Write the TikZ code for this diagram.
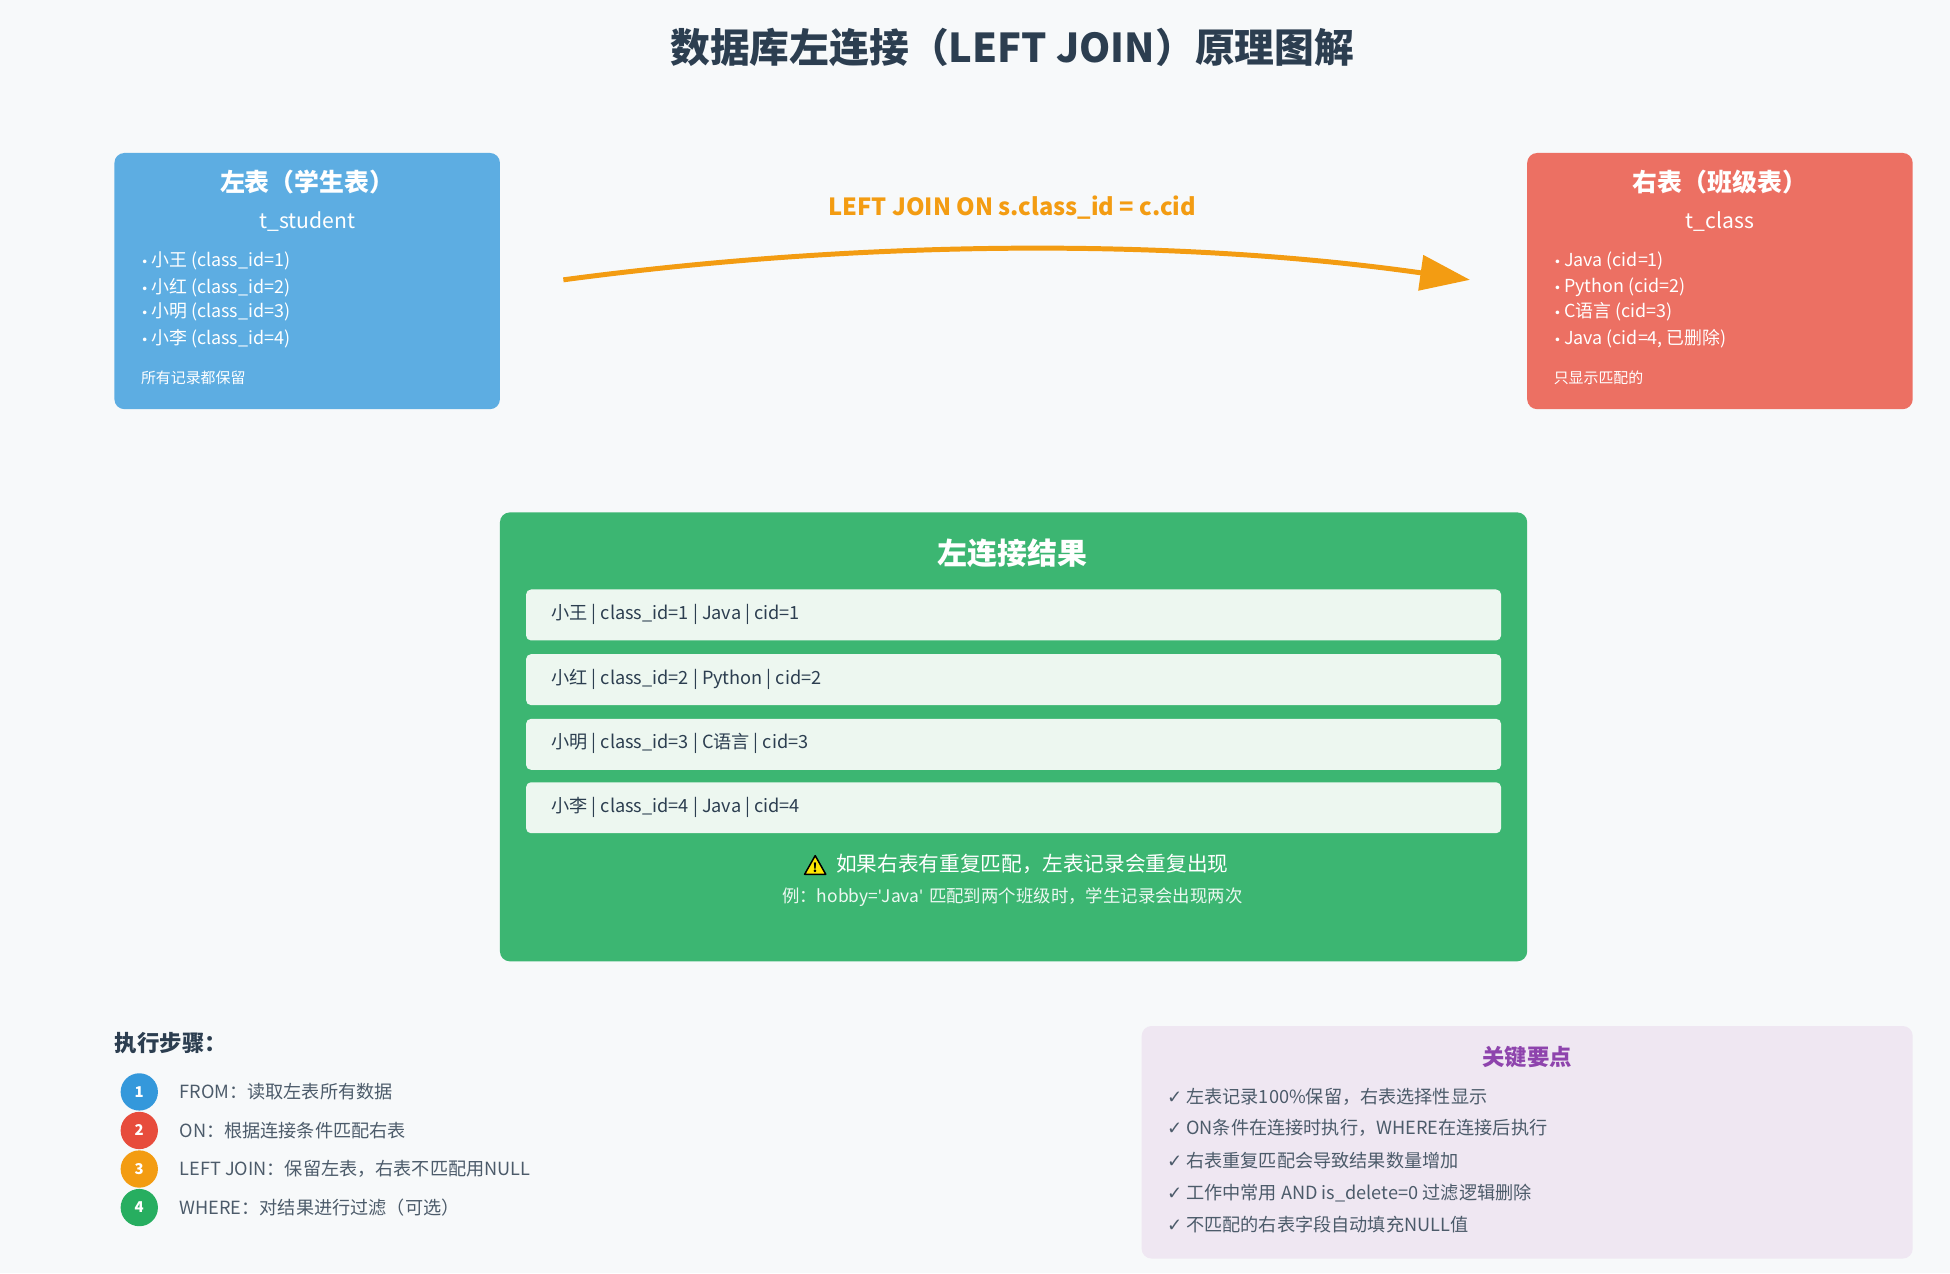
\documentclass[tikz,border=0pt]{standalone}
\usepackage{fontspec}
\setmainfont{Noto Sans CJK SC}
\newfontfamily\djfont{DejaVu Sans}
\newfontfamily\latofont{Lato}
\usetikzlibrary{arrows.meta}
\definecolor{bg}{HTML}{F7F9FA}
\definecolor{dark}{HTML}{2C3E50}
\definecolor{lblue}{HTML}{5DADE2}
\definecolor{lred}{HTML}{EC7063}
\definecolor{lgreen}{HTML}{3CB672}
\definecolor{rowc}{HTML}{EDF7F0}
\definecolor{orng}{HTML}{F39C12}
\definecolor{purp}{HTML}{8E44AD}
\definecolor{lav}{HTML}{EFE7F2}
\definecolor{cblue}{HTML}{3498DB}
\definecolor{cred}{HTML}{E74C3C}
\definecolor{cgreen}{HTML}{27AE60}
\newcommand{\fs}[1]{\fontsize{#1}{#1}\selectfont}
\newcommand{\bul}{{\djfont\fs{5}•}\,}
\newcommand{\sq}{{\latofont\symbol{39}}}
\tikzset{
 card/.style={rounded corners=4pt,draw=none},
 wt/.style={text=white,inner sep=0,anchor=west},
 row/.style={fill=rowc,rounded corners=2pt,draw=none},
 rowt/.style={text=dark,inner sep=0,anchor=west,font=\fs{7.3}},
 stept/.style={text=dark!85,inner sep=0,anchor=west,font=\fs{7.3}},
 num/.style={circle,minimum size=15pt,inner sep=0,text=white,font=\fs{6}\bfseries},
}
\begin{document}
\begin{tikzpicture}[x=0.5pt,y=-0.5pt]
\useasboundingbox[fill=bg] (0,0) rectangle (1568,1024);
\node[text=dark,font=\fs{16}\bfseries] (title) at (814,38) {数据库左连接（LEFT JOIN）原理图解};
% left
\fill[lblue,card] (92,123) rectangle (402,329);
\node[text=white,font=\fs{10}\bfseries] (lt) at (247,146) {左表（学生表）};
\node[text=white,font=\fs{8.5}] (ls) at (247,178) {t\_student};
\node[wt,font=\fs{7.2}] (l1) at (113,210) {\bul 小王 (class\_id=1)};
\node[wt,font=\fs{7.2}] (l2) at (113,231) {\bul 小红 (class\_id=2)};
\node[wt,font=\fs{7.2}] (l3) at (113,251) {\bul 小明 (class\_id=3)};
\node[wt,font=\fs{7.2}] (l4) at (113,272) {\bul 小李 (class\_id=4)};
\node[wt,font=\fs{6}] (lf) at (113,304) {所有记录都保留};
% right
\fill[lred,card] (1228,123) rectangle (1538,329);
\node[text=white,font=\fs{10}\bfseries] (rt) at (1383,146) {右表（班级表）};
\node[text=white,font=\fs{8.5}] (rs) at (1383,178) {t\_class};
\node[wt,font=\fs{7.2}] (r1) at (1249,210) {\bul Java (cid=1)};
\node[wt,font=\fs{7.2}] (r2) at (1249,231) {\bul Python (cid=2)};
\node[wt,font=\fs{7.2}] (r3) at (1249,251) {\bul C语言 (cid=3)};
\node[wt,font=\fs{7.2}] (r4) at (1249,272) {\bul Java (cid=4, 已删除)};
\node[wt,font=\fs{6}] (rf) at (1249,304) {只显示匹配的};
% arrow
\coordinate (a1) at (453,225);
\coordinate (a2) at (1182,225);
\draw[orng,line width=2pt,-{Triangle[length=20pt,width=14pt]}] (a1) .. controls (700,192) and (950,192) .. (a2);
\node[text=orng,font=\fs{9.5}\bfseries] (al) at (814,167) {LEFT JOIN ON s.class\_id = c.cid};
% result
\fill[lgreen,card] (402,412) rectangle (1228,773);
\node[text=white,font=\fs{12}\bfseries] (gt) at (814,445) {左连接结果};
\fill[row] (423,474) rectangle (1207,515);
\fill[row] (423,526) rectangle (1207,567);
\fill[row] (423,578) rectangle (1207,619);
\fill[row] (423,629) rectangle (1207,670);
\node[rowt] (g1) at (443,494) {小王 | class\_id=1 | Java | cid=1};
\node[rowt] (g2) at (443,546) {小红 | class\_id=2 | Python | cid=2};
\node[rowt] (g3) at (443,598) {小明 | class\_id=3 | C语言 | cid=3};
\node[rowt] (g4) at (443,649) {小李 | class\_id=4 | Java | cid=4};
\node[text=white,font=\fs{8.3},inner sep=0,anchor=west] (w) at (672,695) {如果右表有重复匹配，左表记录会重复出现};
\fill[yellow!90!orange,draw=black,line width=0.6pt,line join=round] (647,703) -- (664,703) -- (655.5,688) -- cycle;
\node[font=\fs{5}\bfseries,inner sep=0] (wx) at (655.5,698) {!};
\node[text=white!90!lgreen,font=\fs{7},inner sep=0] (we) at (814,721) {例：hobby=\sq Java\sq\hspace{2.5pt}匹配到两个班级时，学生记录会出现两次};
% steps
\node[text=dark,font=\fs{9}\bfseries,inner sep=0,anchor=west] (sh) at (92,839) {执行步骤：};
\node[num,fill=cblue] (n1) at (112,878) {1};
\node[num,fill=cred] (n2) at (112,909) {2};
\node[num,fill=orng] (n3) at (112,940) {3};
\node[num,fill=cgreen] (n4) at (112,971) {4};
\node[stept] (s1) at (144,878) {FROM：读取左表所有数据};
\node[stept] (s2) at (144,909) {ON：根据连接条件匹配右表};
\node[stept] (s3) at (144,940) {LEFT JOIN：保留左表，右表不匹配用NULL};
\node[stept] (s4) at (144,971) {WHERE：对结果进行过滤（可选）};
% key points
\fill[lav,card] (918,825) rectangle (1538,1012);
\node[text=purp,font=\fs{9}\bfseries] (kt) at (1228,850) {关键要点};
\node[stept] (k1) at (938,882) {{\djfont ✓} 左表记录100\%保留，右表选择性显示};
\node[stept] (k2) at (938,907) {{\djfont ✓} ON条件在连接时执行，WHERE在连接后执行};
\node[stept] (k3) at (938,933) {{\djfont ✓} 右表重复匹配会导致结果数量增加};
\node[stept] (k4) at (938,959) {{\djfont ✓} 工作中常用 AND is\_delete=0 过滤逻辑删除};
\node[stept] (k5) at (938,985) {{\djfont ✓} 不匹配的右表字段自动填充NULL值};
\end{tikzpicture}
\end{document}
